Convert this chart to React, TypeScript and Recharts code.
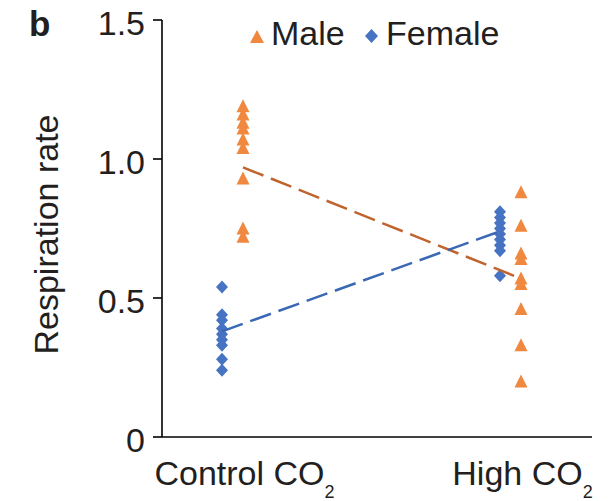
import {
  ScatterChart,
  Scatter,
  XAxis,
  YAxis,
  Legend,
  Label,
} from "recharts";

const groups = ["Control CO2", "High CO2"];
const legendOrder = ["Male", "Female"];

const maleControl = [1.19, 1.16, 1.13, 1.11, 1.07, 1.04, 0.93, 0.75, 0.72];
const maleHigh = [0.88, 0.76, 0.66, 0.64, 0.57, 0.55, 0.46, 0.33, 0.2];
const femaleControl = [0.54, 0.44, 0.42, 0.39, 0.37, 0.35, 0.33, 0.28, 0.24];
const femaleHigh = [0.81, 0.79, 0.77, 0.75, 0.73, 0.71, 0.69, 0.67, 0.58];

const maleMeans = [0.97, 0.57];
const femaleMeans = [0.38, 0.74];

const yTicks = [0, 0.5, 1.0, 1.5];

const ORANGE = "#f0883f";
const BLUE = "#4673c2";
const MALE_LINE = "#c0642f";
const FEMALE_LINE = "#3a68b4";
const INK = "#231f20";
const FONT = "'Liberation Sans', Arial, Helvetica, sans-serif";
const FS = 34;

// female sits just left of the group, male just right
const OFF = 0.0378;

const pts = (vals: number[], g: number, off: number) =>
  vals.map((y) => ({ x: g + 1 + off, y }));

const maleData = [...pts(maleControl, 0, OFF), ...pts(maleHigh, 1, OFF)];
const femaleData = [...pts(femaleControl, 0, -OFF), ...pts(femaleHigh, 1, -OFF)];
const maleMeanData = maleMeans.map((y, i) => ({ x: i + 1 + OFF, y }));
const femaleMeanData = femaleMeans.map((y, i) => ({ x: i + 1 - OFF, y }));

const Triangle = (props: any) => {
  const { cx, cy } = props;
  return (
    <polygon
      points={`${cx},${cy - 7} ${cx + 6.5},${cy + 6} ${cx - 6.5},${cy + 6}`}
      fill={ORANGE}
    />
  );
};

const Diamond = (props: any) => {
  const { cx, cy } = props;
  return (
    <polygon
      points={`${cx},${cy - 6.5} ${cx + 6},${cy} ${cx},${cy + 6.5} ${cx - 6},${cy}`}
      fill={BLUE}
    />
  );
};

const NoDot = () => <g />;

const XTick = (props: any) => {
  const { x, y, payload } = props;
  const label = groups[Math.round(payload.value) - 1] ?? "";
  return (
    <text
      x={x + 12}
      y={y + 48}
      textAnchor="middle"
      fontSize={FS}
      fill={INK}
      fontFamily={FONT}
    >
      <tspan>{label.slice(0, -1)}</tspan>
      <tspan fontSize={18} dy={13}>
        {label.slice(-1)}
      </tspan>
    </text>
  );
};

const YTick = (props: any) => {
  const { x, y, payload } = props;
  return (
    <text
      x={x}
      y={y + 15}
      textAnchor="end"
      fontSize={FS}
      fill={INK}
      fontFamily={FONT}
    >
      {payload.value === 0 ? "0" : payload.value.toFixed(1)}
    </text>
  );
};

const LegendContent = (props: any) => {
  const items = legendOrder
    .map((n) => (props.payload || []).find((p: any) => p.value === n))
    .filter(Boolean);
  return (
    <svg width={270} height={44}>
      {items.map((p: any, i: number) => {
        const bx = i === 0 ? 0 : 115;
        return (
          <g key={p.value}>
            {i === 0 ? (
              <polygon points={`${bx + 7},${21} ${bx + 14},${34} ${bx},${34}`} fill={ORANGE} />
            ) : (
              <polygon
                points={`${bx + 6.5},${20} ${bx + 13},${27} ${bx + 6.5},${34} ${bx},${27}`}
                fill={BLUE}
              />
            )}
            <text x={bx + 21} y={36} fontSize={FS} fill={INK} fontFamily={FONT}>
              {p.value}
            </text>
          </g>
        );
      })}
    </svg>
  );
};

export default function App() {
  return (
    <div style={{ position: "absolute", left: 0, top: 0, width: 610, height: 501, background: "#fff" }}>
      <ScatterChart
        width={610}
        height={501}
        margin={{ top: 20, right: 18, bottom: 4, left: 0 }}
      >
        <XAxis
          type="number"
          dataKey="x"
          domain={[0.7464, 2.2932]}
          ticks={[1, 2]}
          tick={<XTick />}
          tickLine={false}
          tickSize={0}
          tickMargin={0}
          height={60}
          axisLine={{ stroke: "#000", strokeWidth: 1.6 }}
          allowDataOverflow
        />
        <YAxis
          type="number"
          dataKey="y"
          domain={[0, 1.5]}
          ticks={yTicks}
          width={162}
          tickSize={9}
          tickMargin={8}
          tick={<YTick />}
          tickLine={{ stroke: "#000", strokeWidth: 1.6 }}
          axisLine={{ stroke: "#000", strokeWidth: 1.6 }}
        >
          <Label
            content={(p: any) => {
              const vb = p.viewBox || { y: 20, height: 417 };
              return (
                <text
                  transform={`translate(58,${vb.y + vb.height / 2 + 6}) rotate(-90)`}
                  textAnchor="middle"
                  fontSize={FS}
                  fill={INK}
                  fontFamily={FONT}
                >
                  Respiration rate
                </text>
              );
            }}
          />
          <Label
            content={() => (
              <text x={29} y={36} fontSize={35} fontWeight="bold" fill={INK} fontFamily={FONT}>
                b
              </text>
            )}
          />
        </YAxis>
        <Legend
          layout="horizontal"
          verticalAlign="middle"
          align="center"
          content={<LegendContent />}
          wrapperStyle={{ top: 9, left: 250, width: 270, height: 44 }}
        />
        <Scatter
          name="Male"
          data={maleData}
          fill={ORANGE}
          shape={<Triangle />}
          isAnimationActive={false}
        />
        <Scatter
          name="Female"
          data={femaleData}
          fill={BLUE}
          shape={<Diamond />}
          isAnimationActive={false}
        />
        <Scatter
          name="Male mean"
          data={maleMeanData}
          legendType="none"
          line={{ stroke: MALE_LINE, strokeWidth: 2.5, strokeDasharray: "22 8" }}
          lineType="joint"
          shape={<NoDot />}
          isAnimationActive={false}
        />
        <Scatter
          name="Female mean"
          data={femaleMeanData}
          legendType="none"
          line={{ stroke: FEMALE_LINE, strokeWidth: 2.5, strokeDasharray: "22 8" }}
          lineType="joint"
          shape={<NoDot />}
          isAnimationActive={false}
        />
      </ScatterChart>
    </div>
  );
}
